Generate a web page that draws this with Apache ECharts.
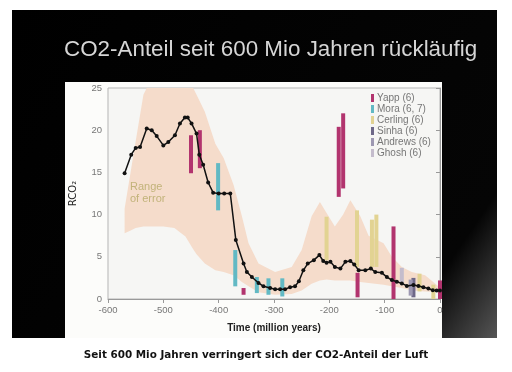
<!DOCTYPE html>
<html><head><meta charset="utf-8">
<script src="https://cdn.jsdelivr.net/npm/echarts@6/dist/echarts.min.js"></script>
<style>html,body{margin:0;padding:0;background:#fff}#c{width:512px;height:372px}</style>
</head><body><div id="c"></div>
<script>
// Black line: mean RCO2 estimate
const lineT = [-570,-558,-550,-542,-530,-521,-512,-500,-491,-479,-470,-461,-456,-449,-440,-435,-428,-419,-410,-400,-390,-379,-369,-355,-349,-340,-328,-319,-307,-298,-289,-280,-271,-262,-255,-247,-239,-228,-218,-211,-205,-198,-190,-180,-171,-162,-155,-147,-135,-125,-117,-105,-96,-87,-78,-69,-60,-48,-39,-30,-21,-13,-6,0];
const lineV = [14.9,17.1,17.9,18.0,20.2,20.0,19.3,18.2,18.6,19.4,20.8,21.5,21.5,20.8,19.6,17.1,15.9,13.8,12.6,12.5,12.5,12.5,7.0,4.2,3.2,2.6,1.9,1.5,1.3,1.15,1.15,1.15,1.4,1.5,2.1,3.4,4.2,4.6,5.2,4.5,4.3,4.4,3.8,3.6,4.4,4.5,4.1,3.4,3.4,3.6,3.2,3.1,2.6,2.25,2.05,1.85,1.55,1.65,1.55,1.4,1.25,1.05,1.0,1.0];

// Range of error band
const bandT     = [-570,-560,-550,-536,-530,-500,-480,-460,-446,-440,-425,-406,-391,-373,-358,-346,-328,-298,-268,-250,-232,-217,-205,-190,-175,-162,-144,-129,-102,-87,-69,-51,-27,-3,0];
const bandUpper = [10.7,14.7,18.7,24.2,25,25,25,25,25,24.2,22.2,18.4,16.7,13.5,9.8,6.6,4.2,3.2,3.8,5.8,9.8,11.5,10.2,8.6,10.0,11.7,9.8,7.5,6.6,5.0,3.8,3.2,2.8,1.5,1.3];
const bandLower = [7.8,8.1,8.4,8.6,8.6,8.6,8.4,7.4,5.9,5.3,4.2,3.4,3.2,2.8,2.0,1.5,0.8,0.5,0.6,1.0,1.8,2.2,2.3,2.2,2.2,2.2,2.0,1.9,1.7,1.5,1.3,1.0,0.9,0.8,0.8];

// Proxy ranges [time, low, high]
const yapp    = [[-450,14.9,19.4],[-434,15.5,20.0],[-355,0.5,1.3],[-183,12.1,20.4],[-175,13.1,22.0],[-149,0.2,3.1],[-84,0,8.6],[0,0,2.2]];
const mora    = [[-401,10.5,16.1],[-370,1.5,5.8],[-331,0.7,2.6],[-310,0.5,2.45],[-285,0.3,2.45]];
const cerling = [[-205,4.6,9.75],[-150,3.8,10.5],[-123,3.8,9.4],[-115,3.8,10.0],[-37,0.9,3.0],[-12,0,1.7]];
const sinha   = [[-48,0.2,2.5]];
const andrews = [[-53,0.4,2.3]];
const ghosh   = [[-69,1.9,3.7]];

const xTicks = [-600,-500,-400,-300,-200,-100,0];
const yTicks = [0,5,10,15,20,25];

const chart = echarts.init(document.getElementById('c'), null, {renderer:'canvas'});

function barSeries(name, color, data){
  return {
    name, type:'custom', z:3, itemStyle:{color}, data,
    encode:{x:0, y:[1,2]},
    renderItem(params, api){
      const t = api.value(0), lo = api.value(1), hi = api.value(2);
      const a = api.coord([t, hi]), b = api.coord([t, lo]);
      return {type:'rect', shape:{x:a[0]-2, y:a[1], width:4, height:b[1]-a[1]}, style:{fill: api.visual('color')}};
    }
  };
}

const option = {
  animation:false,
  backgroundColor:'#ffffff',
  textStyle:{fontFamily:'Liberation Sans, Arial, sans-serif'},
  title:[
    {text:'CO2-Anteil seit 600 Mio Jahren rückläufig', left:59, top:34,
     textStyle:{color:'#d6d6d6', fontSize:22.4, fontWeight:'normal', fontFamily:'Liberation Sans'}},
    {text:'Seit 600 Mio Jahren verringert sich der CO2-Anteil der Luft', left:'center', top:345,
     textStyle:{color:'#111', fontSize:10.4, fontWeight:'bold', fontFamily:'DejaVu Sans'}}
  ],
  graphic:{elements:[
    {type:'rect', z:-100, shape:{x:12,y:10,width:485,height:328},
     style:{fill:new echarts.graphic.LinearGradient(0,0,1,1,[{offset:0,color:'#000'},{offset:0.86,color:'#050505'},{offset:1,color:'#555'}])}},
    {type:'rect', z:-99, shape:{x:65,y:82,width:377,height:256}, style:{fill:'#fcfcfa'}},
    {type:'text', z:100, x:130, y:181, style:{text:'Range\nof error', fill:'#c2b37a', font:'11px Liberation Sans', lineHeight:12}}
  ]},
  legend:{
    orient:'vertical', left:371, top:93, itemWidth:3, itemHeight:8, itemGap:1, icon:'rect', padding:0,
    textStyle:{fontSize:10, color:'#777', padding:[0,0,0,-2]},
    data:['Yapp (6)','Mora (6, 7)','Cerling (6)','Sinha (6)','Andrews (6)','Ghosh (6)']
  },
  grid:{left:108, right:72, top:88, bottom:73, show:true, backgroundColor:'#f6f6f4', borderColor:'#b5b5b5', borderWidth:1},
  xAxis:{
    type:'value', min:xTicks[0], max:xTicks[xTicks.length-1], interval:100,
    axisLine:{lineStyle:{color:'#999'}}, axisTick:{show:true, length:4, lineStyle:{color:'#999'}},
    splitLine:{show:false},
    axisLabel:{color:'#777', fontSize:9.5, margin:6},
    name:'Time (million years)', nameLocation:'middle', nameGap:24,
    nameTextStyle:{color:'#222', fontSize:10, fontWeight:'bold'}
  },
  yAxis:{
    type:'value', min:yTicks[0], max:yTicks[yTicks.length-1], interval:5,
    axisLine:{show:true, lineStyle:{color:'#999'}}, axisTick:{show:true, length:4, lineStyle:{color:'#999'}},
    splitLine:{show:false},
    axisLabel:{color:'#777', fontSize:9.5, margin:6},
    name:'RCO₂', nameLocation:'middle', nameGap:30,
    nameTextStyle:{color:'#222', fontSize:10, fontFamily:'DejaVu Sans'}
  },
  series:[
    {type:'custom', z:1, silent:true, data:[[bandT[0], bandLower[0]]], encode:{x:0,y:1},
     renderItem(params, api){
       const pts=[];
       for(let i=0;i<bandT.length;i++) pts.push(api.coord([bandT[i], bandUpper[i]]));
       for(let i=bandT.length-1;i>=0;i--) pts.push(api.coord([bandT[i], bandLower[i]]));
       return {type:'polygon', shape:{points:pts}, style:{fill:'#f5dccb'}};
     }},
    barSeries('Yapp (6)', '#b2346e', yapp),
    barSeries('Mora (6, 7)', '#62b9c4', mora),
    barSeries('Cerling (6)', '#e2d392', cerling),
    barSeries('Sinha (6)', '#6e6888', sinha),
    barSeries('Andrews (6)', '#9d98b2', andrews),
    barSeries('Ghosh (6)', '#c4bccc', ghosh),
    {type:'line', z:5, data:lineT.map((t,i)=>[t,lineV[i]]), symbol:'circle', symbolSize:4,
     lineStyle:{color:'#111', width:1.5}, itemStyle:{color:'#111'}}
  ]
};
chart.setOption(option);
</script></body></html>
